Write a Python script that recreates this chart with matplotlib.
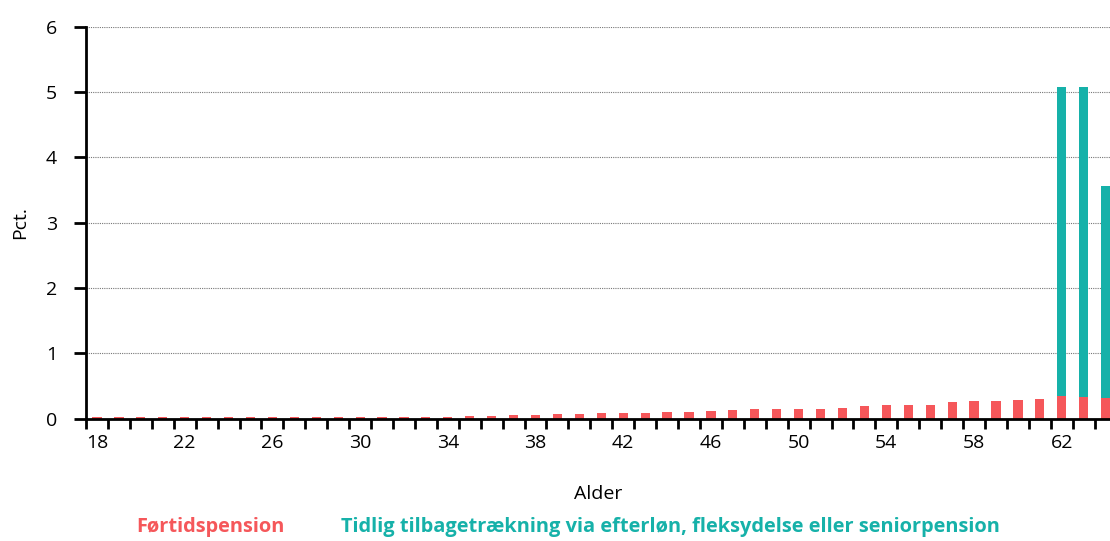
import numpy as np
import matplotlib
matplotlib.use("Agg")
import matplotlib.pyplot as plt
from matplotlib.ticker import MultipleLocator, FixedLocator

plt.rcParams['font.family'] = ['Open Sans', 'DejaVu Sans']

# Alder 18-64
ages = list(range(18, 65))

# Førtidspension (pct.)
foertid = [0.02, 0.02, 0.02, 0.02, 0.02, 0.02, 0.02, 0.02, 0.02, 0.02,
           0.02, 0.02, 0.02, 0.02, 0.02, 0.025, 0.025, 0.04, 0.04, 0.055,
           0.055, 0.07, 0.07, 0.077, 0.077, 0.092, 0.097, 0.107, 0.112, 0.123,
           0.143, 0.148, 0.143, 0.153, 0.158, 0.194, 0.204, 0.204, 0.209, 0.25,
           0.265, 0.265, 0.28, 0.30, 0.352, 0.332, 0.32]

# Tidlig tilbagetrækning via efterløn, fleksydelse eller seniorpension (pct.)
tidlig = [0.0] * 44 + [4.73, 4.74, 3.24]

red = '#F5575A'
teal = '#16B1A9'

fig = plt.figure(figsize=(11.1, 5.41), dpi=100)
ax = fig.add_axes([0.0775, 0.2264, 0.9225, 0.7243])

w = 0.42
ax.bar(ages, foertid, width=w, color=red, zorder=2)
ax.bar(ages, tidlig, width=w, bottom=foertid, color=teal, zorder=2)

ax.set_xlim(17.5, 64.2)
ax.set_ylim(0, 6)

ax.set_axisbelow(True)
ax.yaxis.grid(True, linestyle=(0, (1, 1)), color='#777777', linewidth=0.8)
ax.yaxis.set_major_locator(MultipleLocator(1))

ax.xaxis.set_major_locator(FixedLocator(list(range(18, 63, 4))))
ax.xaxis.set_minor_locator(FixedLocator([a - 0.5 for a in ages] + [64.5]))
ax.tick_params(axis='x', which='major', length=0, pad=11, labelsize=14)
ax.tick_params(axis='x', which='minor', length=7, width=2, direction='out')
ax.tick_params(axis='y', length=9, width=2, pad=12, labelsize=14)

for s in ['top', 'right']:
    ax.spines[s].set_visible(False)
for s in ['left', 'bottom']:
    ax.spines[s].set_linewidth(2)

ax.set_ylabel('Pct.', fontsize=14, labelpad=12)
ax.set_xlabel('Alder', fontsize=14, labelpad=24)

fig.text(0.19, 0.026, 'Førtidspension', color=red, fontsize=14.4, fontweight='bold',
         ha='center', va='center')
fig.text(0.604, 0.026, 'Tidlig tilbagetrækning via efterløn, fleksydelse eller seniorpension',
         color=teal, fontsize=14.4, fontweight='bold', ha='center', va='center')

fig.savefig('out.png', dpi=100)
